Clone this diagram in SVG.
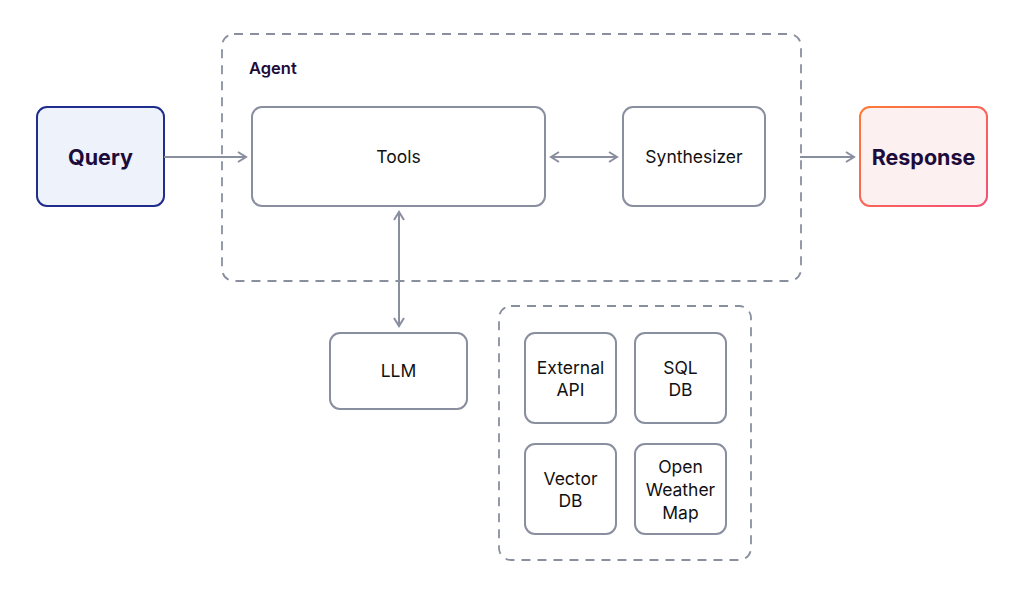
<svg xmlns="http://www.w3.org/2000/svg" width="1024" height="594" viewBox="0 0 1024 594">
<style>
.box{fill:#ffffff;stroke:#8a8fa0;stroke-width:2}
.grp{fill:none;stroke:#8a8fa0;stroke-width:1.8;stroke-dasharray:9 7}
.lbl{font-family:Inter,"Liberation Sans",sans-serif;font-size:17.5px;fill:#111;text-anchor:middle}
.big{font-family:Inter,"Liberation Sans",sans-serif;font-size:21.5px;font-weight:700;fill:#1c0c3c;text-anchor:middle}
.edge{stroke:#8a8fa0;stroke-width:2;fill:none}
</style>
<defs>
<marker id="ah" viewBox="0 0 12 12" refX="10" refY="6" markerWidth="12" markerHeight="12" markerUnits="userSpaceOnUse" orient="auto-start-reverse">
<path d="M2,1 L10,6 L2,11" fill="none" stroke="#8a8fa0" stroke-width="2"/>
</marker>
<linearGradient id="rg" x1="0" y1="0" x2="1" y2="1">
<stop offset="0" stop-color="#ff7a35"/>
<stop offset="1" stop-color="#f2507a"/>
</linearGradient>
</defs>
<rect width="1024" height="594" fill="#ffffff"/>
<g id="agent">
<rect class="grp" x="222" y="34" width="579" height="247" rx="12"/>
<text x="249" y="74" font-family="Inter,'Liberation Sans',sans-serif" font-size="16.5" font-weight="600" fill="#1c0c3c">Agent</text>
</g>
<g id="toolgroup">
<rect class="grp" x="499" y="306" width="252" height="254" rx="12"/>
</g>
<g id="query">
<rect x="37" y="107" width="127" height="99" rx="10" fill="#eef2fb" stroke="#1f2d8c" stroke-width="2"/>
<text class="big" x="100.5" y="165">Query</text>
</g>
<g id="tools">
<rect class="box" x="252" y="107" width="293" height="99" rx="10"/>
<text class="lbl" x="398.5" y="163">Tools</text>
</g>
<g id="synthesizer">
<rect class="box" x="623" y="107" width="142" height="99" rx="10"/>
<text class="lbl" x="694" y="163">Synthesizer</text>
</g>
<g id="response">
<rect x="860" y="107" width="127" height="99" rx="10" fill="#fdf0f0" stroke="url(#rg)" stroke-width="2"/>
<text class="big" x="923.5" y="165">Response</text>
</g>
<g id="llm">
<rect class="box" x="330" y="333" width="137" height="76" rx="10"/>
<text class="lbl" x="398.5" y="377">LLM</text>
</g>
<g id="external-api">
<rect class="box" x="525" y="333" width="91" height="90" rx="10"/>
<text class="lbl" x="570.5" y="374">External</text>
<text class="lbl" x="570.5" y="396">API</text>
</g>
<g id="sql-db">
<rect class="box" x="635" y="333" width="91" height="90" rx="10"/>
<text class="lbl" x="680.5" y="374">SQL</text>
<text class="lbl" x="680.5" y="396">DB</text>
</g>
<g id="vector-db">
<rect class="box" x="525" y="444" width="91" height="90" rx="10"/>
<text class="lbl" x="570.5" y="485">Vector</text>
<text class="lbl" x="570.5" y="507">DB</text>
</g>
<g id="openweathermap">
<rect class="box" x="635" y="444" width="91" height="90" rx="10"/>
<text class="lbl" x="680.5" y="473">Open</text>
<text class="lbl" x="680.5" y="496">Weather</text>
<text class="lbl" x="680.5" y="519">Map</text>
</g>
<g id="connectors">
<line class="edge" x1="164" y1="157" x2="246" y2="157" marker-end="url(#ah)"/>
<line class="edge" x1="551" y1="157" x2="617" y2="157" marker-start="url(#ah)" marker-end="url(#ah)"/>
<line class="edge" x1="800" y1="157" x2="854" y2="157" marker-end="url(#ah)"/>
<line class="edge" x1="399" y1="212" x2="399" y2="326" marker-start="url(#ah)" marker-end="url(#ah)"/>
</g>
</svg>
